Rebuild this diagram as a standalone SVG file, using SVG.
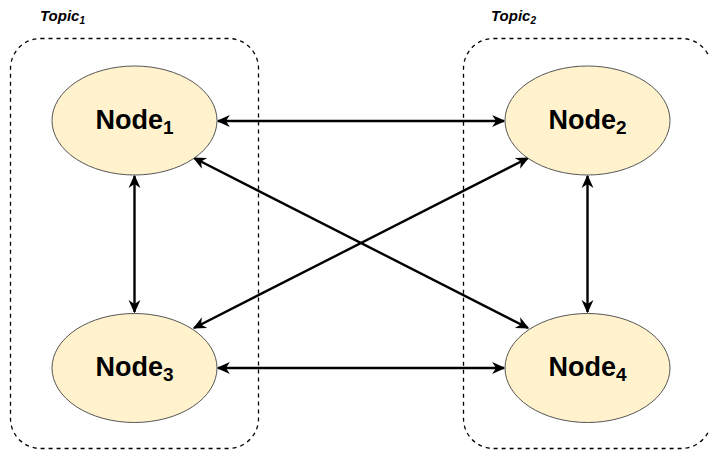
<svg xmlns="http://www.w3.org/2000/svg" width="709" height="451" viewBox="0 0 709 451">
<defs>
<marker id="arr" viewBox="0 0 10 10" refX="9" refY="5" markerWidth="5.5" markerHeight="5.5" orient="auto-start-reverse" markerUnits="strokeWidth">
<path d="M0,0.5 L10,5 L0,9.5 L3,5 Z" fill="#000"/>
</marker>
</defs>
<style>
.topic{fill:none;stroke:#000;stroke-width:1.3;stroke-dasharray:4 4}
.tlabel{font-family:"Liberation Sans",Arial,sans-serif;font-weight:bold;font-style:italic;font-size:15px;fill:#000}
.node{fill:#fff2cc;stroke:#555;stroke-width:1}
.nlabel{font-family:"Liberation Sans",Arial,sans-serif;font-weight:bold;font-size:27px;fill:#000;text-anchor:middle}
.edge{stroke:#000;stroke-width:2.4;fill:none;marker-start:url(#arr);marker-end:url(#arr)}
</style>
<rect width="709" height="451" fill="#fff"/>
<g id="topic1">
<rect class="topic" x="10.5" y="38.5" width="248" height="410" rx="30" ry="30"/>
<text class="tlabel" x="40" y="21">Topic<tspan font-size="10" dy="3">1</tspan></text>
</g>
<g id="topic2">
<rect class="topic" x="463.5" y="38.5" width="248" height="410" rx="30" ry="30"/>
<text class="tlabel" x="491" y="21">Topic<tspan font-size="10" dy="3">2</tspan></text>
</g>
<g id="connectors">
<line class="edge" x1="218" y1="121" x2="504" y2="121"/>
<line class="edge" x1="218" y1="368" x2="504" y2="368"/>
<line class="edge" x1="134.5" y1="176" x2="134.5" y2="312"/>
<line class="edge" x1="587.5" y1="176" x2="587.5" y2="312"/>
<line class="edge" x1="194" y1="158" x2="528" y2="328"/>
<line class="edge" x1="528" y1="158" x2="194" y2="328"/>
</g>
<g id="node1">
<ellipse class="node" cx="134.5" cy="120.5" rx="82.5" ry="54.5"/>
<text class="nlabel" x="134.5" y="129">Node<tspan font-size="19" dy="5">1</tspan></text>
</g>
<g id="node2">
<ellipse class="node" cx="587.5" cy="120.5" rx="82.5" ry="54.5"/>
<text class="nlabel" x="587.5" y="129">Node<tspan font-size="19" dy="5">2</tspan></text>
</g>
<g id="node3">
<ellipse class="node" cx="134.5" cy="368" rx="82.5" ry="54.5"/>
<text class="nlabel" x="134.5" y="376">Node<tspan font-size="19" dy="5">3</tspan></text>
</g>
<g id="node4">
<ellipse class="node" cx="587.5" cy="368" rx="82.5" ry="54.5"/>
<text class="nlabel" x="587.5" y="376">Node<tspan font-size="19" dy="5">4</tspan></text>
</g>
</svg>
